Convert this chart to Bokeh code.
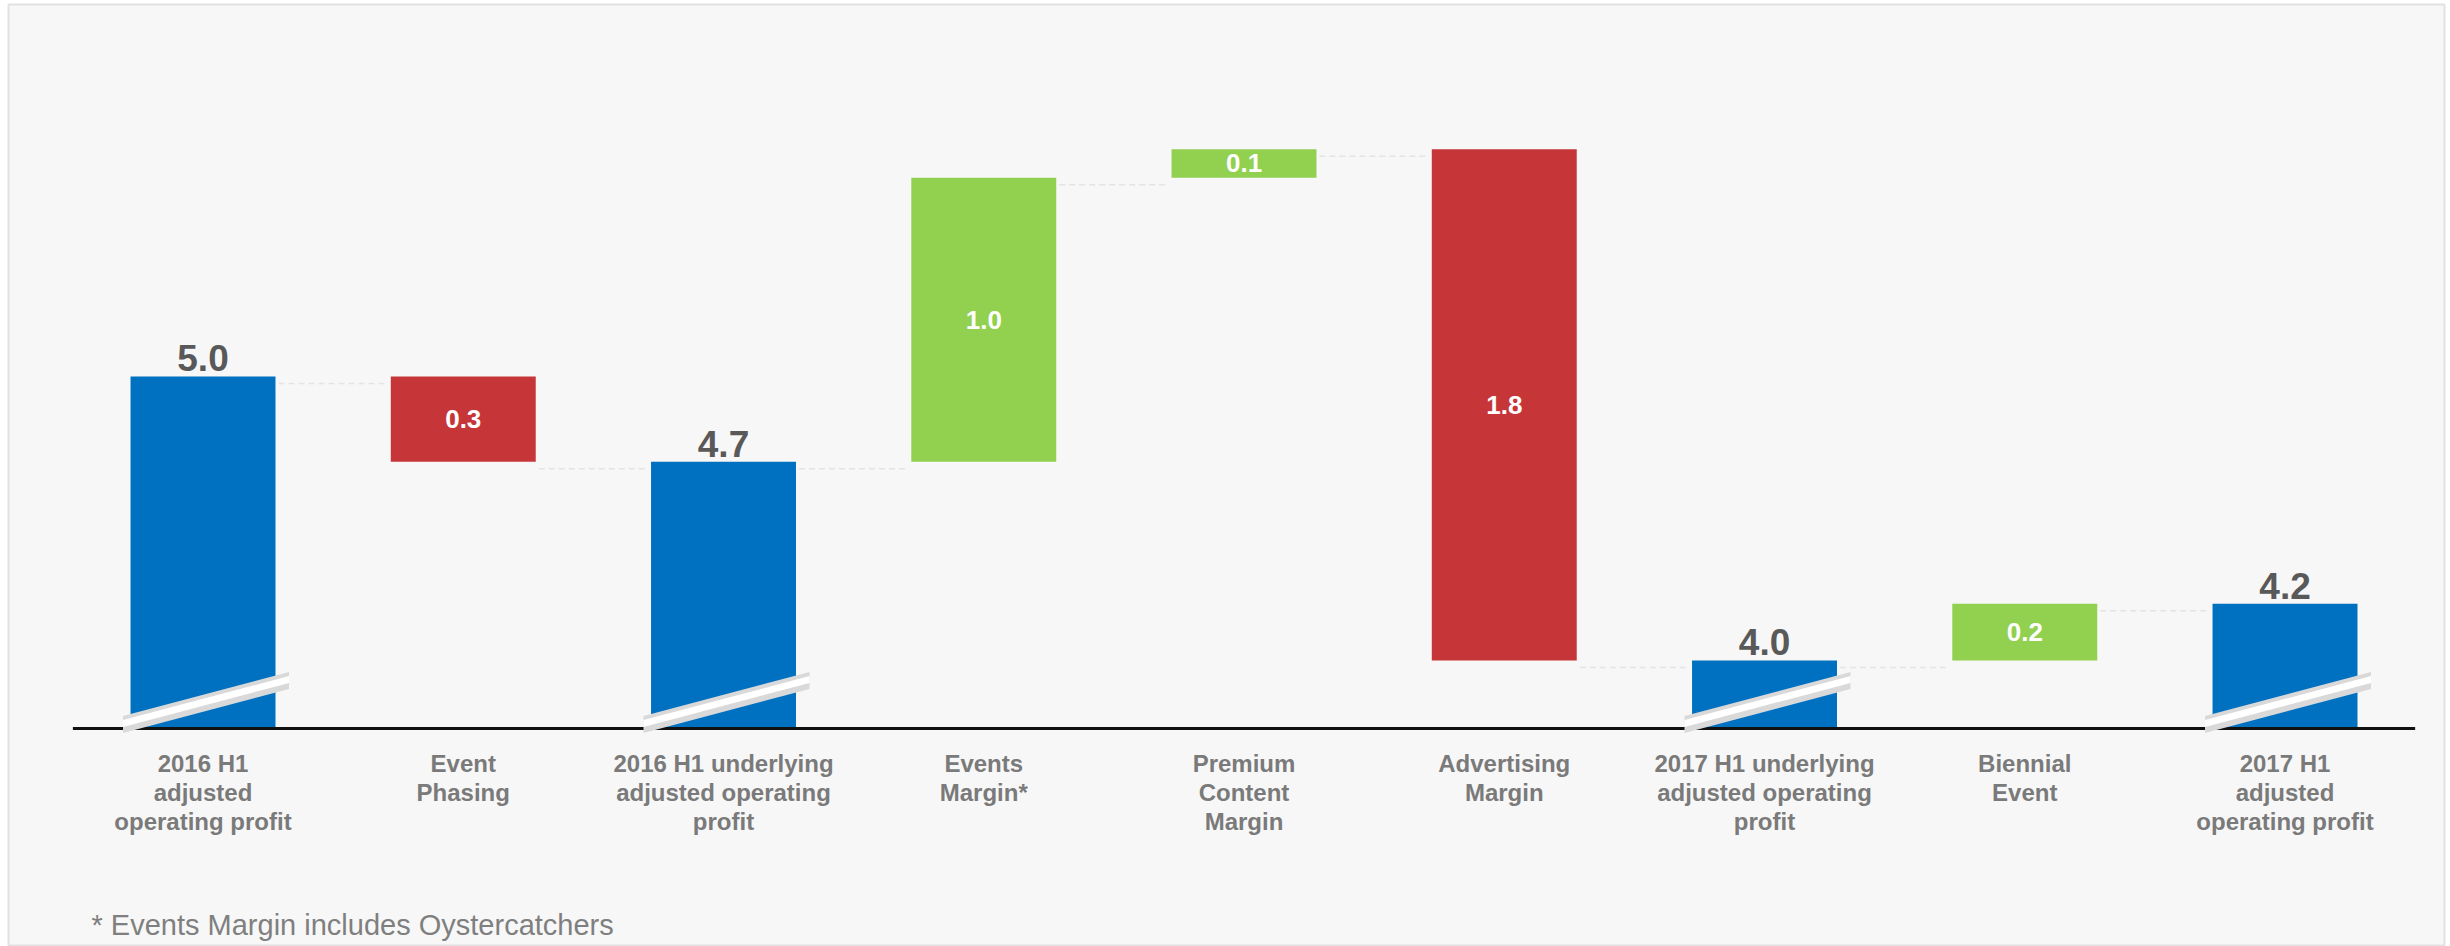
from bokeh.plotting import figure
from bokeh.models import ColumnDataSource, Range1d
from bokeh.embed import file_html
from bokeh.resources import INLINE
from bokeh.core.properties import value

# ---------------- data ----------------
categories = [
    "2016 H1\nadjusted\noperating profit",
    "Event\nPhasing",
    "2016 H1 underlying\nadjusted operating\nprofit",
    "Events\nMargin*",
    "Premium\nContent\nMargin",
    "Advertising\nMargin",
    "2017 H1 underlying\nadjusted operating\nprofit",
    "Biennial\nEvent",
    "2017 H1\nadjusted\noperating profit",
]
steps = [5.0, -0.3, 4.7, 1.0, 0.1, -1.8, 4.0, 0.2, 4.2]
kinds = ["total", "delta", "total", "delta", "delta", "delta", "total", "delta", "total"]
footnote = "* Events Margin includes Oystercatchers"

# ---------------- style ----------------
BLUE, RED, GREEN = "#0070C0", "#C63639", "#92D050"
AXIS_FLOOR = 3.764          # value at the (broken) baseline
PPU = 284.0                 # pixels per value unit
PPX = 260.25                # pixels per category step
BAR_W = 0.557
FONT = "Liberation Sans"

W, H = 2450, 946
p = figure(width=W, height=H, output_backend="svg", toolbar_location=None,
           x_axis_type=None, y_axis_type=None,
           x_range=Range1d(-0.7474, 8.6128), y_range=Range1d(2.9929, 6.3098),
           min_border=0)
p.min_border_left = 8
p.min_border_right = 6
p.min_border_top = 4
p.min_border_bottom = 0
p.grid.visible = False
p.background_fill_color = "#F7F7F7"
p.border_fill_color = "white"
p.outline_line_color = "#E2E2E2"
p.outline_line_width = 2

# ---------------- waterfall geometry ----------------
xs, bottoms, tops, colors, levels = [], [], [], [], []
level = 0.0
for i, (v, k) in enumerate(zip(steps, kinds)):
    if k == "total":
        b, t, c = AXIS_FLOOR, v, BLUE
        level = v
    else:
        new = level + v
        b, t = min(level, new), max(level, new)
        c = GREEN if v > 0 else RED
        level = new
    xs.append(i); bottoms.append(b); tops.append(t); colors.append(c); levels.append(level)

src = ColumnDataSource(dict(x=xs, bottom=bottoms, top=tops, color=colors))

# connectors
cx0 = [i + BAR_W / 2 + 3 / PPX for i in range(len(steps) - 1)]
cx1 = [i + 1 - BAR_W / 2 - 3 / PPX for i in range(len(steps) - 1)]
cy = [levels[i] - 7 / PPU for i in range(len(steps) - 1)]
p.segment(x0=cx0, y0=cy, x1=cx1, y1=cy, line_color="#E4E4E4", line_width=1.5, line_dash="6 4")

# bars
p.vbar(x="x", bottom="bottom", top="top", width=BAR_W, fill_color="color",
       line_color=None, source=src)

# baseline axis line
p.segment(x0=[-0.5], y0=[AXIS_FLOOR - 1 / PPU], x1=[len(steps) - 0.5], y1=[AXIS_FLOOR - 1 / PPU],
          line_color="#111111", line_width=3)

# axis-break marks on total bars
gx, gy, wx, wy = [], [], [], []
for i, k in enumerate(kinds):
    if k != "total":
        continue
    L, R = i - 83 / PPX + 3 / PPX, i + 83 / PPX + 3 / PPX
    yl, yr = AXIS_FLOOR + 3 / PPU, AXIS_FLOOR + 47 / PPU
    hg, hw = 8.5 / PPU, 3.4 / PPU
    gx.append([L, R, R, L]); gy.append([yl - hg, yr - hg, yr + hg, yl + hg])
    wx.append([L, R, R, L]); wy.append([yl - hw + 1 / PPU, yr - hw + 1 / PPU, yr + hw + 1 / PPU, yl + hw + 1 / PPU])
p.patches(xs=gx, ys=gy, fill_color="#D9D9D9", line_color=None)
p.patches(xs=wx, ys=wy, fill_color="#FFFFFF", line_color=None)

# value labels
tot_x = [i for i, k in enumerate(kinds) if k == "total"]
tot_y = [tops[i] + 18 / PPU for i in tot_x]
tot_t = [f"{steps[i]:.1f}" for i in tot_x]
p.text(x=tot_x, y=tot_y, text=tot_t, text_align="center", text_baseline="middle",
       text_font=value(FONT), text_font_style="bold", text_font_size="37px", text_color="#595959")

del_x = [i for i, k in enumerate(kinds) if k != "total"]
del_y = [(bottoms[i] + tops[i]) / 2 for i in del_x]
del_t = [f"{abs(steps[i]):.1f}" for i in del_x]
p.text(x=del_x, y=del_y, text=del_t, text_align="center", text_baseline="middle",
       text_font=value(FONT), text_font_style="bold", text_font_size="26px", text_color="white")

# category labels
p.text(x=list(range(len(categories))), y=[AXIS_FLOOR - 22 / PPU] * len(categories), text=categories,
       text_align="center", text_baseline="top", text_line_height=1.08,
       text_font=value(FONT), text_font_style="bold", text_font_size="24px", text_color="#7A7A7A")

# footnote
p.text(x=[-0.4284], y=[AXIS_FLOOR - 197 / PPU], text=[footnote], text_align="left",
       text_baseline="middle", text_font=value(FONT), text_font_size="29px", text_color="#7F7F7F")

open("out.html", "w").write(file_html(p, INLINE))
